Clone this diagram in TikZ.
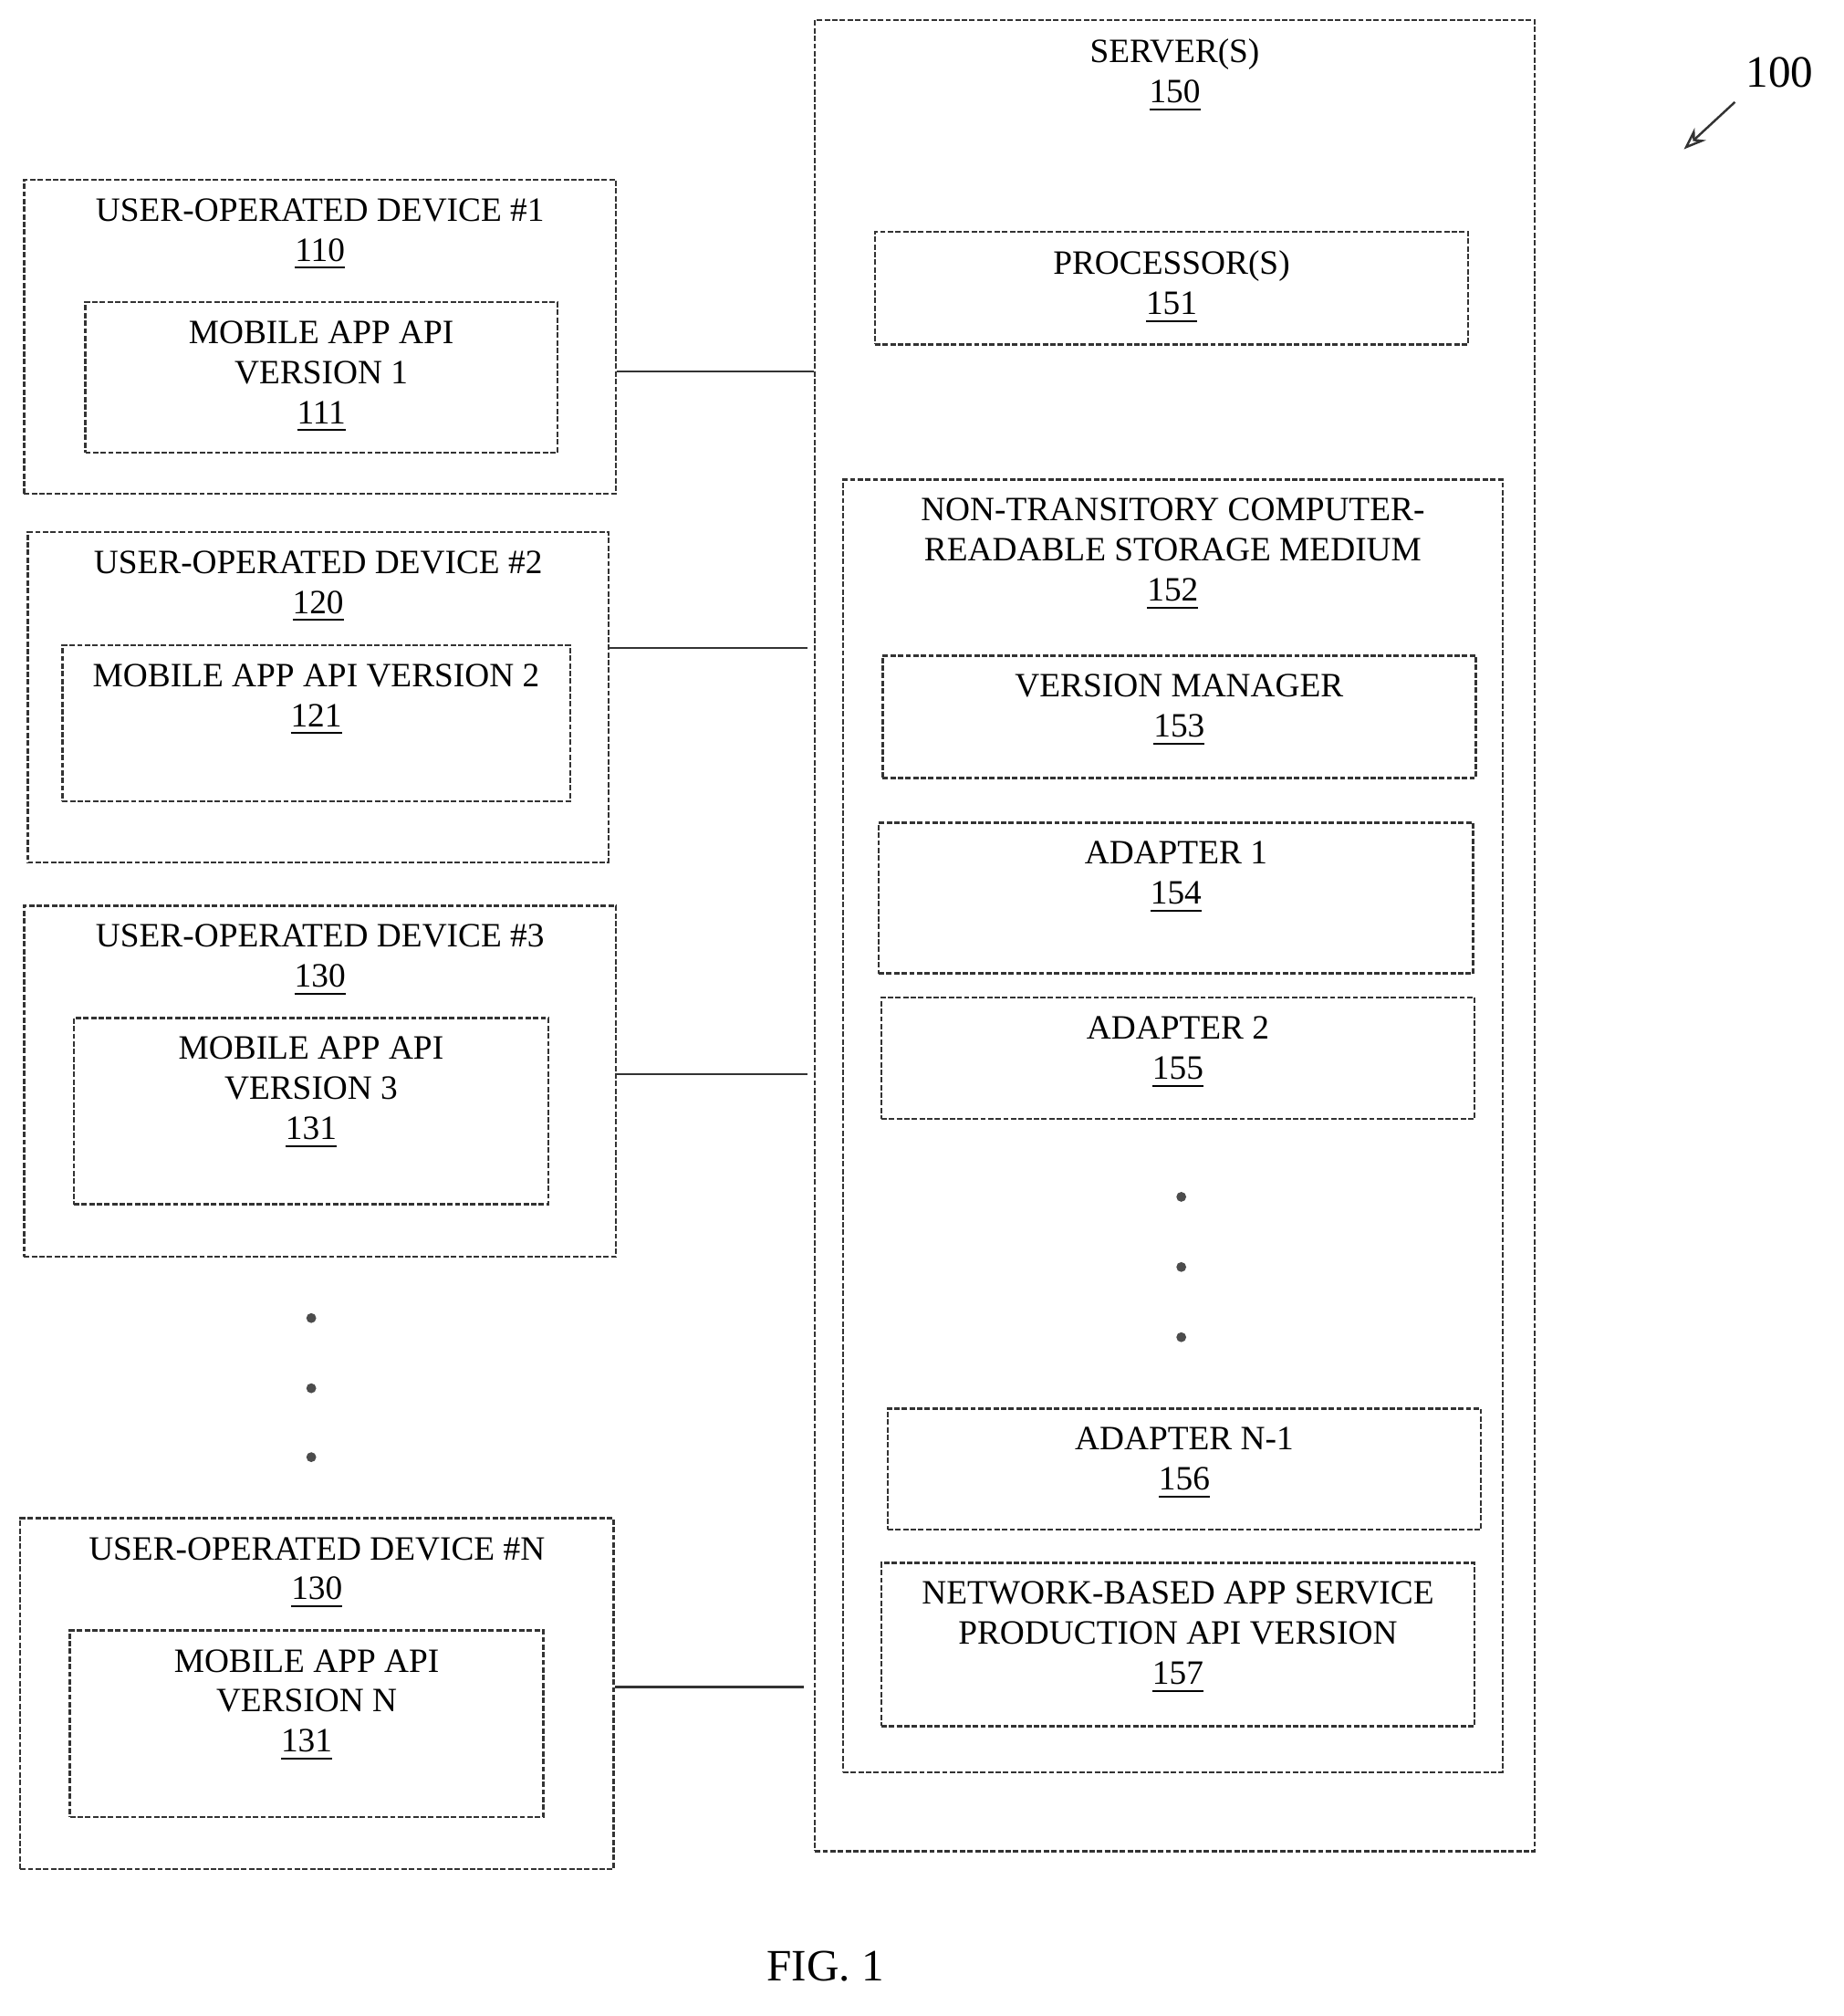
\documentclass[tikz,border=0pt]{standalone}
\usepackage{fontspec}
\setmainfont{Liberation Serif}
\usetikzlibrary{positioning, arrows.meta}
\begin{document}
\begin{tikzpicture}[
        node distance=0.15cm,
        box/.style={
            rectangle,
            draw=black!80,
            line width=0.5pt,
            dash pattern=on 1.2pt off 0.5pt,
            anchor=north west,
            inner sep=0pt
        },
        lbl/.style={
            inner sep=0pt,
            align=center,
            font=\fontsize{7.6}{8.9}\selectfont
        },
        link/.style={draw=black!80, line width=0.5pt},
        dot/.style={circle, fill=black!70, inner sep=0pt, minimum size=2.2pt}
    ]
    \useasboundingbox (0,0) rectangle (14.45,-15.8);

    % --- Server ---
    \node[box, minimum width=5.64cm, minimum height=14.35cm] (srv) at (6.38,-0.15) {};
    \node[lbl, below=of srv.north] {SERVER(S)\\\underline{150}};
    \node[box, minimum width=4.65cm, minimum height=0.88cm] (proc) at (6.85,-1.81) {};
    \node[lbl, below=of proc.north] {PROCESSOR(S)\\\underline{151}};
    \node[box, minimum width=5.17cm, minimum height=10.13cm] (stor) at (6.60,-3.75) {};
    \node[lbl, below=of stor.north] {NON-TRANSITORY COMPUTER-\\READABLE STORAGE MEDIUM\\\underline{152}};
    \node[box, minimum width=4.65cm, minimum height=0.96cm] (vman) at (6.91,-5.13) {};
    \node[lbl, below=of vman.north] {VERSION MANAGER\\\underline{153}};
    \node[box, minimum width=4.66cm, minimum height=1.18cm] (ada1) at (6.88,-6.44) {};
    \node[lbl, below=of ada1.north] {ADAPTER 1\\\underline{154}};
    \node[box, minimum width=4.65cm, minimum height=0.95cm] (ada2) at (6.90,-7.81) {};
    \node[lbl, below=of ada2.north] {ADAPTER 2\\\underline{155}};
    \foreach \y in {9.38, 9.93, 10.48}
        \node[dot] at (9.26,-\y) {};
    \node[box, minimum width=4.65cm, minimum height=0.95cm] (adan) at (6.95,-11.03) {};
    \node[lbl, below=of adan.north] {ADAPTER N-1\\\underline{156}};
    \node[box, minimum width=4.65cm, minimum height=1.28cm] (prod) at (6.90,-12.24) {};
    \node[lbl, below=of prod.north] {NETWORK-BASED APP SERVICE\\PRODUCTION API VERSION\\\underline{157}};

    % --- Devices ---
    \node[box, minimum width=4.64cm, minimum height=2.46cm] (dev1) at (0.18,-1.40) {};
    \node[lbl, below=of dev1.north] {USER-OPERATED DEVICE \#1\\\underline{110}};
    \node[box, minimum width=3.70cm, minimum height=1.18cm] (api1) at (0.66,-2.36) {};
    \node[lbl, below=of api1.north] {MOBILE APP API\\VERSION 1\\\underline{111}};

    \node[box, minimum width=4.55cm, minimum height=2.59cm] (dev2) at (0.21,-4.16) {};
    \node[lbl, below=of dev2.north] {USER-OPERATED DEVICE \#2\\\underline{120}};
    \node[box, minimum width=3.98cm, minimum height=1.22cm] (api2) at (0.48,-5.05) {};
    \node[lbl, below=of api2.north] {MOBILE APP API VERSION 2\\\underline{121}};

    \node[box, minimum width=4.64cm, minimum height=2.75cm] (dev3) at (0.18,-7.09) {};
    \node[lbl, below=of dev3.north] {USER-OPERATED DEVICE \#3\\\underline{130}};
    \node[box, minimum width=3.72cm, minimum height=1.46cm] (api3) at (0.57,-7.97) {};
    \node[lbl, below=of api3.north] {MOBILE APP API\\VERSION 3\\\underline{131}};

    \foreach \y in {10.33, 10.88, 11.42}
        \node[dot] at (2.44,-\y) {};

    \node[box, minimum width=4.65cm, minimum height=2.75cm] (devn) at (0.15,-11.89) {};
    \node[lbl, below=of devn.north] {USER-OPERATED DEVICE \#N\\\underline{130}};
    \node[box, minimum width=3.71cm, minimum height=1.46cm] (apin) at (0.54,-12.77) {};
    \node[lbl, below=of apin.north] {MOBILE APP API\\VERSION N\\\underline{131}};

    % --- Links ---
    \draw[link] (dev1.east |- 0,-2.91) -- (srv.west |- 0,-2.91);
    \draw[link] (dev2.east |- 0,-5.08) -- (6.33,-5.08);
    \draw[link] (dev3.east |- 0,-8.42) -- (6.33,-8.42);
    \draw[link] (devn.east |- 0,-13.22) -- (6.30,-13.22);

    % --- Reference ---
    \node[lbl, font=\fontsize{10}{12}\selectfont] (ref) at (13.95,-0.57) {100};
    \coordinate (reftip) at (13.20,-1.17);
    \draw[link, -{Stealth[length=5pt, open]}] (13.60,-0.80) -- (reftip);
    \node[lbl, font=\fontsize{10}{12}\selectfont] (fig) at (6.47,-15.41) {FIG. 1};
\end{tikzpicture}
\end{document}
